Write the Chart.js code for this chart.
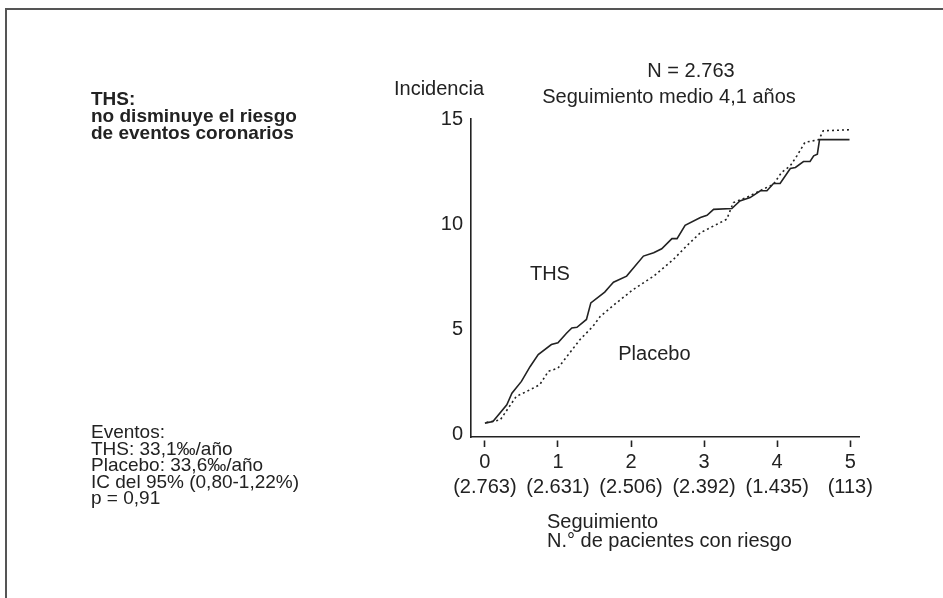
<!DOCTYPE html>
<html lang="es">
<head>
<meta charset="utf-8">
<title>THS: incidencia de eventos coronarios</title>
<script src="https://cdn.jsdelivr.net/npm/chart.js@4.4.1/dist/chart.umd.min.js"></script>
<style>
  html, body { margin: 0; padding: 0; background: #fff; }
  #wrap { position: relative; width: 943px; height: 598px; overflow: hidden; }
  #frame { position: absolute; left: 5px; top: 8px; width: 1000px; height: 700px;
           border-top: 2px solid #555; border-left: 2px solid #555; }
  canvas { position: absolute; left: 0; top: 0; }
</style>
</head>
<body>
<div id="wrap">
  <div id="frame"></div>
  <canvas id="incChart"></canvas>
</div>
<script>
// Follow-up years and cumulative incidence
const thsYears = [0, 0.11, 0.30, 0.37, 0.50, 0.62, 0.73, 0.91, 1.00, 1.12, 1.19, 1.26, 1.39, 1.45,
    1.64, 1.71, 1.76, 1.94, 2.17, 2.31, 2.42, 2.56, 2.63, 2.74, 2.95, 3.04, 3.13, 3.38, 3.49, 3.63,
    3.77, 3.86, 3.95, 4.04, 4.18, 4.25, 4.36, 4.45, 4.50, 4.55, 4.58, 4.99];
const thsValues = [0.56, 0.63, 1.43, 1.98, 2.54, 3.25, 3.81, 4.29, 4.37, 4.84, 5.08, 5.11, 5.48, 6.27,
    6.78, 7.06, 7.25, 7.54, 8.49, 8.65, 8.84, 9.32, 9.32, 9.95, 10.32, 10.43, 10.71, 10.75, 11.11, 11.27,
    11.59, 11.59, 11.94, 11.94, 12.65, 12.70, 12.98, 12.98, 13.25, 13.33, 14.02, 14.02];

const placeboYears = [0.02, 0.21, 0.32, 0.43, 0.57, 0.75, 0.87, 1.00, 1.16, 1.30, 1.48, 1.58, 1.80,
    2.03, 2.31, 2.58, 2.76, 2.95, 3.13, 3.31, 3.40, 3.58, 3.81, 3.95, 4.06, 4.18, 4.27, 4.38, 4.57,
    4.63, 5.00];
const placeboValues = [0.59, 0.71, 1.27, 1.83, 2.06, 2.38, 3.02, 3.17, 3.89, 4.52, 5.16, 5.63, 6.27,
    6.90, 7.54, 8.33, 8.97, 9.60, 9.92, 10.24, 11.03, 11.27, 11.67, 11.90, 12.46, 12.78, 13.25, 13.89,
    14.02, 14.44, 14.49];

// Axis ticks
const xTicks = [0, 1, 2, 3, 4, 5];
const atRisk = ['(2.763)', '(2.631)', '(2.506)', '(2.392)', '(1.435)', '(113)'];
const yTicks = [0, 5, 10, 15];

const FONT = '"Liberation Sans", Arial, sans-serif';
const INK = '#222';

function toPoints(xs, ys) {
    return xs.map((x, i) => ({ x: x, y: ys[i] }));
}

// free text around the plot
const annotations = {
    id: 'annotations',
    afterDraw(chart) {
        const ctx = chart.ctx;
        const sx = chart.scales.x, sy = chart.scales.y;
        ctx.save();
        ctx.fillStyle = INK;
        ctx.textBaseline = 'middle';

        ctx.font = '20px ' + FONT;
        ctx.textAlign = 'center';
        ctx.fillText('N = 2.763', 691, 71);
        ctx.fillText('Seguimiento medio 4,1 años', 669, 97);

        ctx.textAlign = 'left';
        ctx.fillText('Incidencia', 394, 89);
        ctx.fillText('Seguimiento', 547, 522);
        ctx.fillText('N.° de pacientes con riesgo', 547, 541);

        // series names, placed in data space
        ctx.textAlign = 'center';
        ctx.fillText('THS', sx.getPixelForValue(0.89), sy.getPixelForValue(7.6));
        ctx.fillText('Placebo', sx.getPixelForValue(2.32), sy.getPixelForValue(3.8));

        ctx.textAlign = 'left';
        ctx.font = 'bold 19px ' + FONT;
        ['THS:', 'no disminuye el riesgo', 'de eventos coronarios'].forEach((t, i) => {
            ctx.fillText(t, 91, 100 + i * 17);
        });

        ctx.font = '19px ' + FONT;
        ['Eventos:', 'THS: 33,1‰/año', 'Placebo: 33,6‰/año', 'IC del 95% (0,80-1,22%)', 'p = 0,91']
            .forEach((t, i) => {
                ctx.fillText(t, 91, 433 + i * 16.5);
            });
        ctx.restore();
    }
};

const ctx = document.getElementById('incChart').getContext('2d');
const incChart = new Chart(ctx, {
    type: 'line',
    data: {
        datasets: [
            {
                label: 'THS',
                data: toPoints(thsYears, thsValues),
                borderColor: INK,
                borderWidth: 1.6,
                pointRadius: 0,
                tension: 0
            },
            {
                label: 'Placebo',
                data: toPoints(placeboYears, placeboValues),
                borderColor: INK,
                borderWidth: 1.6,
                borderDash: [2, 3],
                pointRadius: 0,
                tension: 0
            }
        ]
    },
    options: {
        responsive: true,
        maintainAspectRatio: false,
        animation: false,
        layout: { padding: { top: 119, right: 84, bottom: 0, left: 0 } },
        plugins: {
            legend: { display: false },
            tooltip: { enabled: false }
        },
        scales: {
            x: {
                type: 'linear',
                min: -0.19,
                max: 5.12,
                afterBuildTicks: (s) => { s.ticks = xTicks.map(v => ({ value: v })); },
                afterFit: (s) => { s.height = 161; },
                border: { display: true, color: INK, width: 1.6 },
                grid: {
                    drawOnChartArea: false,
                    drawTicks: true,
                    tickLength: 10,
                    tickColor: INK,
                    tickWidth: 1.6,
                    tickBorderDash: [0, 3, 7, 100]
                },
                ticks: {
                    color: INK,
                    padding: 3,
                    maxRotation: 0,
                    font: { family: FONT, size: 20, lineHeight: 1.25 },
                    callback: (v) => {
                        const i = xTicks.indexOf(v);
                        return i < 0 ? '' : [String(v), atRisk[i]];
                    }
                }
            },
            y: {
                type: 'linear',
                min: -0.1,
                max: 15,
                afterBuildTicks: (s) => { s.ticks = yTicks.map(v => ({ value: v })); },
                afterFit: (s) => { s.width = 471; },
                border: { display: true, color: INK, width: 1.6 },
                grid: { drawOnChartArea: false, drawTicks: false },
                ticks: {
                    color: INK,
                    padding: 8,
                    font: { family: FONT, size: 20 }
                }
            }
        }
    },
    plugins: [annotations]
});
</script>
</body>
</html>
